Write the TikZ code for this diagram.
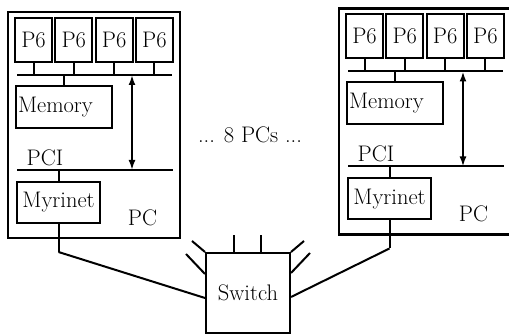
\documentclass[tikz,border=0pt]{standalone}
\usepackage{tikz}
\usetikzlibrary{arrows.meta}
\tikzset{
  unit/.style={draw, line width=2pt, inner sep=0pt, font=\fontsize{22.5}{27}\selectfont},
  cpu/.style={unit, minimum width=37, minimum height=44},
  frame/.style={draw, line width=2.2pt, minimum height=226},
  lbl/.style={inner sep=0pt, font=\fontsize{22.5}{27}\selectfont},
  bus/.style={line width=2pt},
  dbl/.style={bus, {Latex[length=10pt,width=7pt]}-{Latex[length=10pt,width=7pt]}}
}
\newcommand{\pcunit}[2]{%
  \node[frame, minimum width=#2] (#1pc) at ({8+#2/2},125) {};
  \foreach \i in {1,...,4}
    \node[cpu] (#1p\i) at ({33.5+40.3*(\i-1)},40) {P6};
  \coordinate (#1mbl) at (17,75);
  \coordinate (#1mbr) at (172,75);
  \draw[bus] (#1mbl) -- (#1mbr);
  \foreach \i in {1,...,4}
    \draw[bus] (#1p\i.south) -- (#1p\i.south |- #1mbl);
  \node[unit, text width=92, inner sep=2pt, minimum height=42, align=left] (#1mem) at (64,107) {Memory};
  \draw[bus] (#1mem.north) -- (#1mem.north |- #1mbl);
  \node[lbl] (#1pcil) at (45,157.5) {PCI};
  \coordinate (#1pbl) at (17,170);
  \coordinate (#1pbr) at (173,170);
  \draw[bus] (#1pbl) -- (#1pbr);
  \coordinate (#1at) at (132,75);
  \coordinate (#1ab) at (132,170);
  \draw[dbl] (#1at) -- (#1ab);
  \node[unit, minimum width=83, minimum height=41] (#1myr) at (58.5,202.5) {Myrinet};
  \draw[bus] (#1myr.north) -- (#1myr.north |- #1pbl);
  \node[lbl] (#1pcl) at (142.5,217.5) {PC};
  \coordinate (#1port) at (58.5,252);
  \draw[bus] (#1myr.south) -- (#1port);
}

\begin{document}
\begin{tikzpicture}[x=1pt,y=-1pt]
    \useasboundingbox (0,0) rectangle (509,336);
    \clip (0,0) rectangle (509,336);
    % two of the PCs
    \begin{scope}
        \pcunit{l}{172}
    \end{scope}
    \begin{scope}[shift={(331,-3.5)}]
        \pcunit{r}{190}
    \end{scope}
    \node[lbl] (more) at (250,135) {... 8 PCs ...};
    % switch
    \node[unit, minimum width=84, minimum height=80] (sw) at (248,293) {Switch};
    \draw[bus] (lport) -- ([yshift=-5pt]sw.west);
    \draw[bus] (rport) -- ([yshift=-4pt]sw.east);
    \draw[bus] ([xshift=-14pt]sw.north) -- ++(0,-17);
    \draw[bus] ([xshift=13pt]sw.north) -- ++(0,-17);
    \draw[bus] (sw.north west) -- ++(-13,-11);
    \draw[bus] ([yshift=-22pt]sw.north west) -- ++(-19,-20);
    \draw[bus] (sw.north east) -- ++(13,-11);
    \draw[bus] ([yshift=-21pt]sw.north east) -- ++(19,-20);
\end{tikzpicture}
\end{document}
